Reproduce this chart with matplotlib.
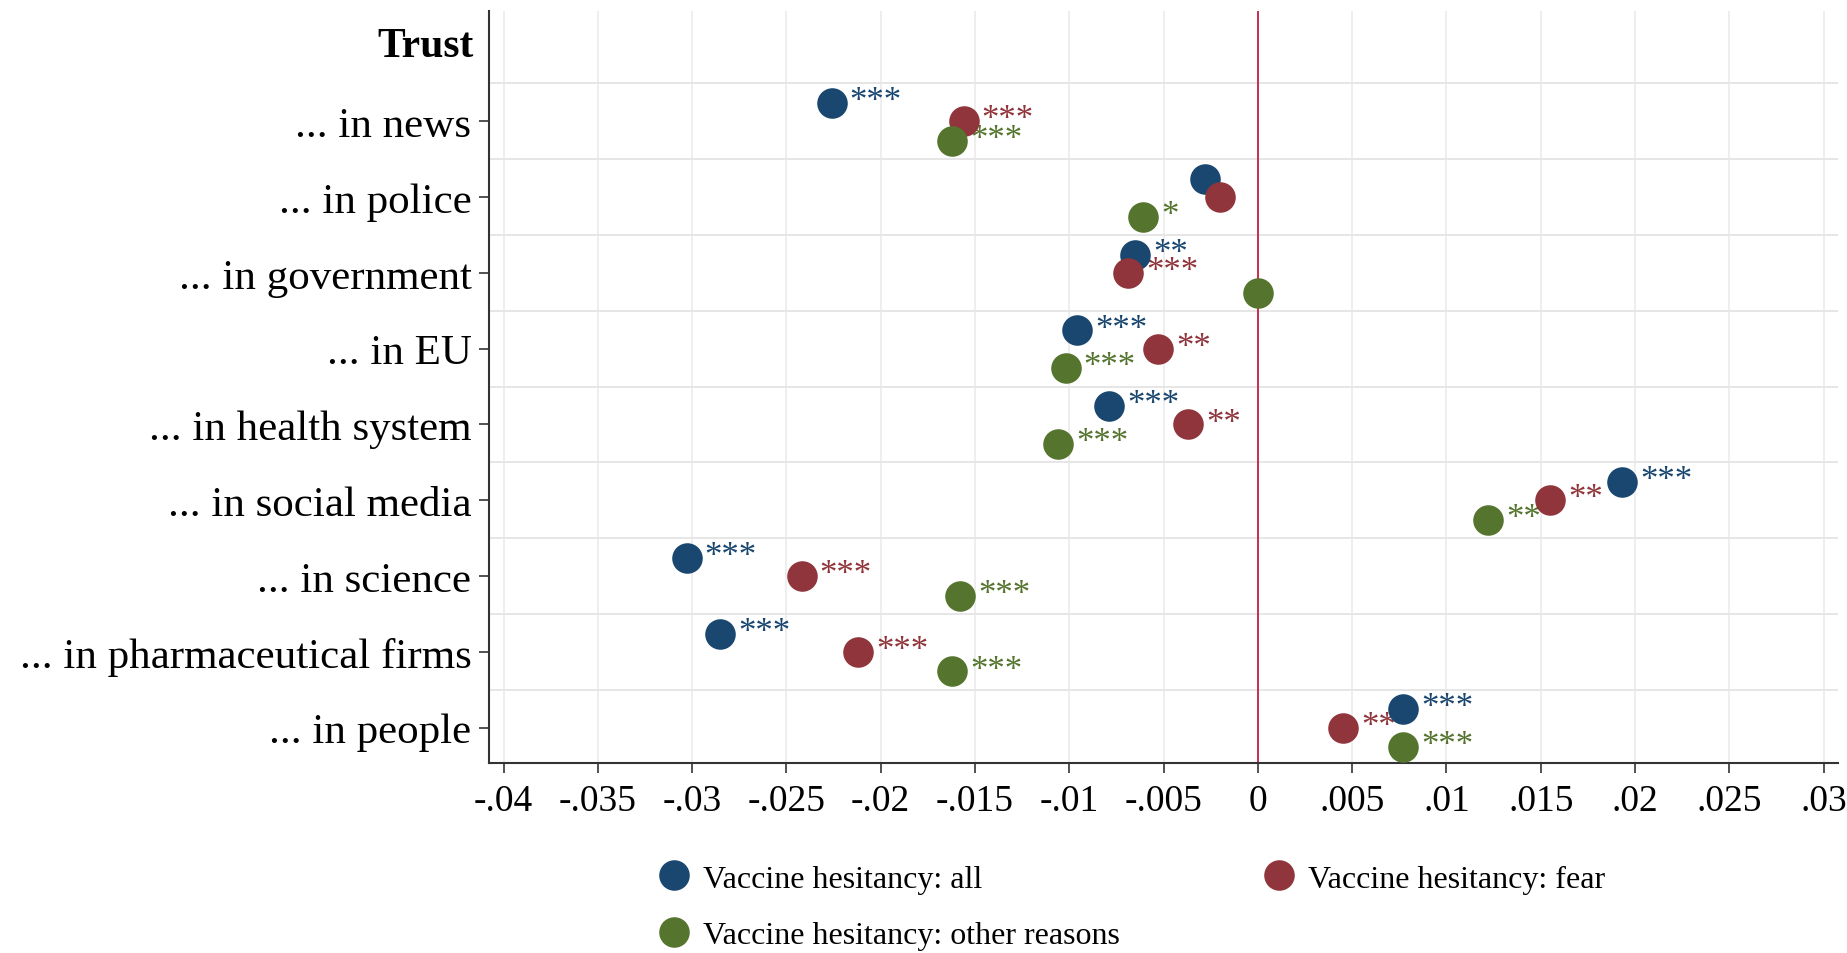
import matplotlib.pyplot as plt

plt.rcParams['font.family'] = ['Liberation Serif', 'DejaVu Serif']

categories = ["... in news", "... in police", "... in government", "... in EU",
              "... in health system", "... in social media", "... in science",
              "... in pharmaceutical firms", "... in people"]

coef_all = [-0.0226, -0.0028, -0.0065, -0.0096, -0.0079, 0.0193, -0.0303, -0.0285, 0.0077]
coef_fear = [-0.0156, -0.0020, -0.0069, -0.0053, -0.0037, 0.0155, -0.0242, -0.0212, 0.0045]
coef_other = [-0.0162, -0.0061, 0.0000, -0.0102, -0.0106, 0.0122, -0.0158, -0.0162, 0.0077]

stars_all = ["***", "", "**", "***", "***", "***", "***", "***", "***"]
stars_fear = ["***", "", "***", "**", "**", "**", "***", "***", "**"]
stars_other = ["***", "*", "", "***", "***", "**", "***", "***", "***"]

xticks = [-0.04, -0.035, -0.03, -0.025, -0.02, -0.015, -0.01, -0.005, 0,
          0.005, 0.01, 0.015, 0.02, 0.025, 0.03]
xticklabels = ["-.04", "-.035", "-.03", "-.025", "-.02", "-.015", "-.01", "-.005", "0",
               ".005", ".01", ".015", ".02", ".025", ".03"]

series = [
    ("Vaccine hesitancy: all", coef_all, stars_all, "#1a476f", -0.24),
    ("Vaccine hesitancy: fear", coef_fear, stars_fear, "#90353b", 0.0),
    ("Vaccine hesitancy: other reasons", coef_other, stars_other, "#55752f", 0.26),
]

fig = plt.figure(figsize=(18.47, 9.54), dpi=100)
ax = fig.add_axes([0.265, 0.199, 0.73, 0.788])

ypos = list(range(1, len(categories) + 1))

# grille
for x in xticks:
    ax.axvline(x, color="#ebebeb", lw=1.2, zorder=0)
for k in range(len(categories)):
    ax.axhline(k + 0.5, color="#e6e6e6", lw=1.4, zorder=0)

ax.axvline(0, color="#c41e45", lw=1.3, zorder=1)

handles = {}
for i, (lab, vals, stars, col, off) in enumerate(series):
    yy = [y + off for y in ypos]
    h, = ax.plot(vals, yy, 'o', ms=22, color=col, markeredgewidth=0,
                 linestyle='none', zorder=3 + i, label=lab)
    handles[lab] = h
    for x, y, s in zip(vals, yy, stars):
        if s:
            ax.annotate(s, (x, y), xytext=(13, 1), textcoords='offset points',
                        fontsize=25, color=col, va='center', ha='left', zorder=2)

ax.set_xlim(-0.04075, 0.03075)
ax.set_ylim(9.47, -0.45)
ax.set_xticks(xticks)
ax.set_xticklabels(xticklabels, fontsize=27)
ax.set_yticks(ypos)
ax.set_yticklabels(categories, fontsize=31)
ax.tick_params(axis='both', direction='out', length=7, width=1.2, color="#333333")
ax.tick_params(axis='x', pad=8)
ax.tick_params(axis='y', pad=6)

ax.text(-0.012, 0, "Trust", transform=ax.get_yaxis_transform(), ha='right',
        va='center', fontsize=30, fontweight='bold')

for side in ['top', 'right']:
    ax.spines[side].set_visible(False)
for side in ['left', 'bottom']:
    ax.spines[side].set_color("#333333")
    ax.spines[side].set_linewidth(1.5)

order = ["Vaccine hesitancy: all", "Vaccine hesitancy: other reasons", "Vaccine hesitancy: fear"]
fig.legend([handles[k] for k in order], order, loc='upper left',
           bbox_to_anchor=(0.358, 0.093), ncol=2, frameon=False, fontsize=23,
           handlelength=0.8, handletextpad=0.5, columnspacing=4.6,
           labelspacing=0.85, borderaxespad=0, borderpad=0)

fig.savefig("out.png", dpi=100)
